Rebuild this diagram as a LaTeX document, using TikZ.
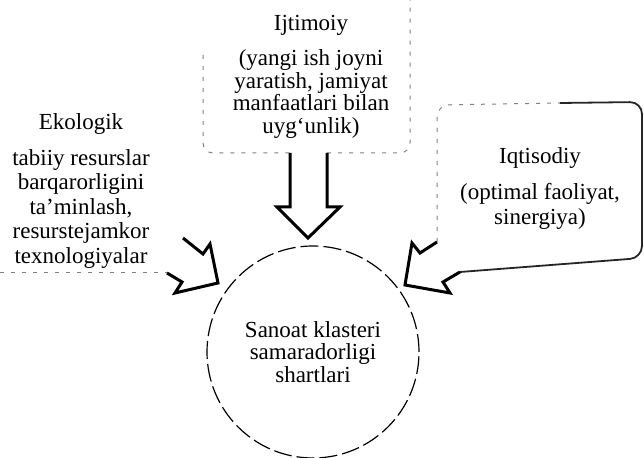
\documentclass[tikz,border=0pt]{standalone}
\usepackage{fontspec}
\setmainfont{Liberation Serif}
\usepackage{tikz}

\begin{document}
\begin{tikzpicture}[x=0.5pt,y=-0.5pt,
  headtext/.style={font=\fontsize{11.5}{12}\selectfont,inner sep=0pt},
  bodytext/.style={font=\fontsize{11.5}{#1}\selectfont,align=center,inner sep=0pt},
  arrowline/.style={black,line width=1.5pt,line join=miter},
  faintline/.style={black!50,line width=0.5pt,dash pattern=on 2pt off 3.5pt},
  boxline/.style={black!85,line width=0.9pt}]
  \useasboundingbox (0,0) rectangle (644,458);
  % --- Ijtimoiy (top callout) ---
  \node[headtext] (ijtTitle) at (311,25) {Ijtimoiy};
  \node[bodytext=11.2pt] (ijtText) at (311,94)
    {(yangi ish joyni\\ yaratish, jamiyat\\ manfaatlari bilan\\ uyg‘unlik)};
  \draw[faintline,rounded corners=5pt] (203,55) -- (203,153) -- (290,153);
  \draw[faintline,rounded corners=5pt] (327,153) -- (410,153) -- (410,0);
  \draw[arrowline] (290,153) -- (290,207) -- (277,207) -- (308,238)
    -- (340,207) -- (327,207) -- (327,153);
  % --- Ekologik (left callout) ---
  \node[headtext] (ekoTitle) at (81,124) {Ekologik};
  \node[bodytext=12.25pt] (ekoText) at (81,209)
    {tabiiy resurslar\\ barqarorligini\\ ta’minlash,\\ resurstejamkor\\ texnologiyalar};
  \draw[faintline] (0,273) -- (167,273);
  \draw[arrowline] (167,273) -- (182,282) -- (175,293) -- (218,283)
    -- (210,244) -- (203,254) -- (183,238);
  % --- Iqtisodiy (right callout) ---
  \node[headtext] (iqtTitle) at (540,158) {Iqtisodiy};
  \node[bodytext=12.5pt] (iqtText) at (540,206) {(optimal faoliyat,\\ sinergiya)};
  \draw[faintline,rounded corners=6pt] (437,242) -- (437,105) -- (560,103);
  \draw[boxline,rounded corners=6pt] (560,103) -- (642,102) -- (642,258) -- (460,272);
  \draw[arrowline] (460,272) -- (443,282) -- (450,293) -- (405,285)
    -- (412,243) -- (420,253) -- (437,242);
  % --- centre ---
  \node[draw,circle,dash pattern=on 9pt off 2.5pt,line width=0.6pt,
    minimum size=106pt,inner sep=0pt,bodytext=11.25pt] (klaster) at (313,352)
    {Sanoat klasteri\\ samaradorligi\\ shartlari};
\end{tikzpicture}
\end{document}
